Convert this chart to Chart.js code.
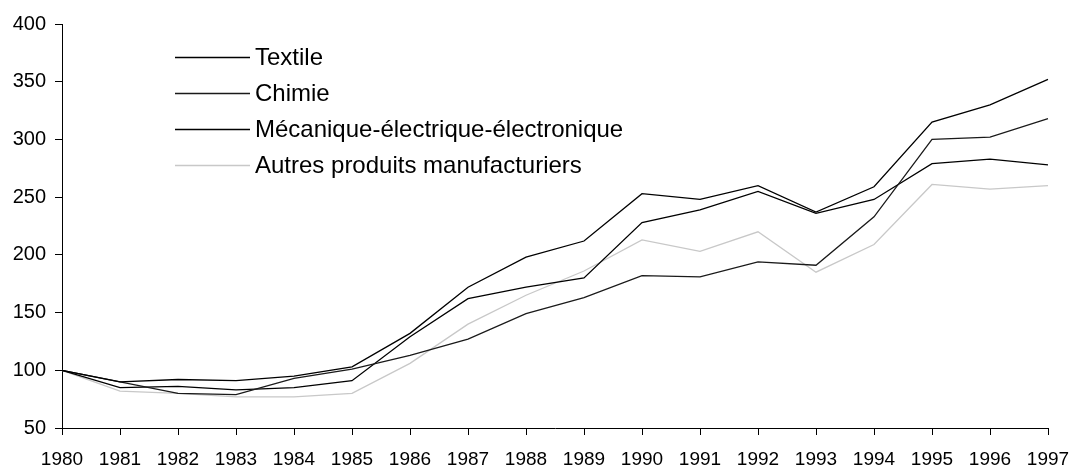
<!DOCTYPE html>
<html>
<head>
<meta charset="utf-8">
<script src="https://cdn.jsdelivr.net/npm/chart.js@4/dist/chart.umd.min.js"></script>
<style>
  html, body { margin: 0; padding: 0; background: #fff; }
  #wrap { width: 1072px; height: 469px; position: relative; }
</style>
</head>
<body>
<div id="wrap"><canvas id="chart"></canvas></div>
<script>
// years on the x axis
const years = ['1980', '1981', '1982', '1983', '1984', '1985', '1986', '1987', '1988',
               '1989', '1990', '1991', '1992', '1993', '1994', '1995', '1996', '1997'];

// index values, 1980 = 100
const textile = [100, 90, 92, 91, 95, 103, 132, 172, 198, 212, 253, 248, 260, 237, 259, 315, 330, 352];
const chimie = [100, 90, 80, 79, 93, 101, 113, 127, 149, 163, 182, 181, 194, 191, 233, 300, 302, 318];
const mecanique = [100, 85, 86, 83, 85, 91, 129, 162, 172, 180, 228, 239, 255, 236, 248, 279, 283, 278];
const autres = [100, 82, 80, 77, 77, 80, 106, 140, 165, 186, 213, 203, 220, 185, 209, 261, 257, 260];

const seriesNames = ['Textile', 'Chimie', 'Mécanique-électrique-électronique', 'Autres produits manufacturiers'];
const seriesColors = ['#000000', '#1a1a1a', '#000000', '#c8c8c8'];

const FONT = 'Arial, "Liberation Sans", sans-serif';

// legend drawn inside the plot, top left, line then label
const insideLegend = {
    id: 'insideLegend',
    afterDraw(chart) {
        const ctx = chart.ctx;
        ctx.save();
        ctx.font = '24px ' + FONT;
        ctx.textBaseline = 'middle';
        ctx.textAlign = 'left';
        chart.data.datasets.forEach((ds, i) => {
            const y = 57.5 + i * 36;
            ctx.strokeStyle = ds.borderColor;
            ctx.lineWidth = 1.3;
            ctx.beginPath();
            ctx.moveTo(175, y);
            ctx.lineTo(250, y);
            ctx.stroke();
            ctx.fillStyle = '#000';
            ctx.fillText(ds.label, 255, y + 1);
        });
        ctx.restore();
    }
};

const makeSet = (i, values) => ({
    label: seriesNames[i],
    data: values,
    borderColor: seriesColors[i],
    backgroundColor: seriesColors[i],
    borderWidth: 1.3,
    pointRadius: 0,
    tension: 0,
    fill: false
});

const ctx = document.getElementById('chart').getContext('2d');
new Chart(ctx, {
    type: 'line',
    data: {
        labels: years,
        datasets: [
            makeSet(0, textile),
            makeSet(1, chimie),
            makeSet(2, mecanique),
            makeSet(3, autres)
        ]
    },
    options: {
        responsive: true,
        maintainAspectRatio: false,
        animation: false,
        layout: { padding: { top: 24, right: 24, left: 0, bottom: 0 } },
        scales: {
            x: {
                offset: false,
                border: { display: true, color: '#000', width: 1 },
                grid: { display: true, drawOnChartArea: false, drawTicks: true, tickLength: 7, color: '#000' },
                ticks: {
                    color: '#000',
                    font: { family: FONT, size: 19 },
                    padding: 13,
                    maxRotation: 0,
                    autoSkip: false
                },
                afterFit(scale) {
                    scale.height = 41;
                    // let the layout padding alone decide the plot edges
                    scale.paddingLeft = 0;
                    scale.paddingRight = 0;
                }
            },
            y: {
                min: 50,
                max: 400,
                border: { display: true, color: '#000', width: 1 },
                grid: { display: true, drawOnChartArea: false, drawTicks: true, tickLength: 7, color: '#000' },
                ticks: {
                    stepSize: 50,
                    color: '#000',
                    font: { family: FONT, size: 20 },
                    padding: 9
                },
                afterFit(scale) {
                    scale.width = 62;
                    scale.paddingTop = 0;
                    scale.paddingBottom = 0;
                }
            }
        },
        plugins: {
            legend: { display: false },
            tooltip: { enabled: false },
            title: { display: false }
        }
    },
    plugins: [insideLegend]
});
</script>
</body>
</html>
